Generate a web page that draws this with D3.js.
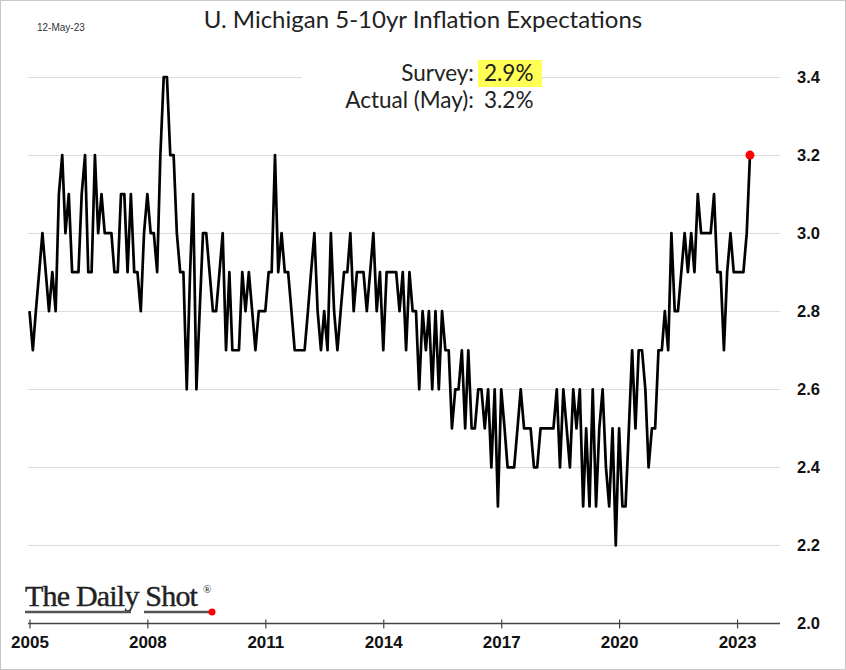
<!DOCTYPE html>
<html><head><meta charset="utf-8">
<script src="https://cdn.jsdelivr.net/npm/d3@7"></script>
<style>body{margin:0;background:#fff} svg{display:block}</style>
</head><body>
<script>
// ---- data ----
const startYear = 2005;           // first observation: Jan 2005, monthly
const values = [
  2.8,2.7,2.8,2.9,3.0,2.9,2.8,2.9,2.8,3.1,3.2,3.0, // 2005
  3.1,2.9,2.9,2.9,3.1,3.2,2.9,2.9,3.2,3.0,3.1,3.0, // 2006
  3.0,3.0,2.9,2.9,3.1,3.1,2.9,3.1,2.9,2.9,2.8,3.0, // 2007
  3.1,3.0,3.0,2.9,3.2,3.4,3.4,3.2,3.2,3.0,2.9,2.9, // 2008
  2.6,2.9,3.1,2.6,2.8,3.0,3.0,2.9,2.8,2.8,2.9,3.0, // 2009
  2.7,2.9,2.7,2.7,2.7,2.9,2.8,2.9,2.8,2.7,2.8,2.8, // 2010
  2.8,2.9,2.9,3.2,2.9,3.0,2.9,2.9,2.8,2.7,2.7,2.7, // 2011
  2.7,2.8,2.9,3.0,2.8,2.7,2.8,2.7,3.0,2.8,2.7,2.8, // 2012
  2.9,2.9,3.0,2.8,2.9,2.9,2.9,2.8,2.9,3.0,2.8,2.9, // 2013
  2.7,2.9,2.9,2.9,2.9,2.8,2.9,2.7,2.9,2.8,2.8,2.6, // 2014
  2.8,2.7,2.8,2.6,2.8,2.6,2.8,2.7,2.7,2.5,2.6,2.6, // 2015
  2.7,2.5,2.7,2.5,2.5,2.6,2.6,2.5,2.6,2.4,2.6,2.3, // 2016
  2.6,2.5,2.4,2.4,2.4,2.5,2.6,2.5,2.5,2.5,2.4,2.4, // 2017
  2.5,2.5,2.5,2.5,2.5,2.6,2.4,2.6,2.5,2.4,2.6,2.5, // 2018
  2.6,2.3,2.5,2.3,2.6,2.3,2.5,2.6,2.4,2.3,2.5,2.2, // 2019
  2.5,2.3,2.3,2.5,2.7,2.5,2.7,2.7,2.6,2.4,2.5,2.5, // 2020
  2.7,2.7,2.8,2.7,3.0,2.8,2.8,2.9,3.0,2.9,3.0,2.9, // 2021
  3.1,3.0,3.0,3.0,3.0,3.1,2.9,2.9,2.7,2.9,3.0,2.9, // 2022
  2.9,2.9,2.9,3.0,3.2                               // 2023
];
const yTicks = [2.0, 2.2, 2.4, 2.6, 2.8, 3.0, 3.2, 3.4];
const xTickYears = [2005, 2008, 2011, 2014, 2017, 2020, 2023];
const titleText = "U. Michigan 5-10yr Inflation Expectations";
const dateStamp = "12-May-23";
const surveyLabel = "Survey:", surveyValue = "2.9%";
const actualLabel = "Actual (May):", actualValue = "3.2%";

// ---- chart ----
const W = 846, H = 670;
const svg = d3.select("body").append("svg").attr("width", W).attr("height", H);
svg.append("rect").attr("x", 0.5).attr("y", 0.5).attr("width", W - 1).attr("height", H - 1)
  .attr("fill", "#fff").attr("stroke", "#c8c8c8");

const data = values.map((v, i) => ({date: new Date(startYear, i, 1), value: v}));
const x = d3.scaleTime().domain([new Date(2005, 0, 1), new Date(2024, 1, 4)]).range([29.5, 780]);
const y = d3.scaleLinear().domain([2.0, 3.4]).range([623.5, 77]);

// gridlines
svg.append("g").selectAll("line").data(yTicks.filter(t => t > 2.0)).join("line")
  .attr("x1", 28).attr("x2", 780)
  .attr("y1", d => Math.round(y(d)) + 0.5).attr("y2", d => Math.round(y(d)) + 0.5)
  .attr("stroke", "#dcdcdc").attr("stroke-width", 1.2);

// y labels on the right
const yAxis = svg.append("g").attr("transform", "translate(797,0)")
  .call(d3.axisRight(y).tickValues(yTicks).tickFormat(d3.format(".1f")).tickSize(0).tickPadding(0));
yAxis.select(".domain").remove();
yAxis.selectAll("text").attr("font-family", "Liberation Sans, Arial, sans-serif")
  .attr("font-size", 16.5).attr("font-weight", "bold").attr("fill", "#111");

// x axis
const xAxis = svg.append("g").attr("transform", `translate(0,${y(2.0)})`)
  .call(d3.axisBottom(x).tickValues(xTickYears.map(yr => new Date(yr, 0, 1)))
    .tickFormat(d3.timeFormat("%Y")).tickSizeInner(5).tickSizeOuter(0).tickPadding(7));
xAxis.select(".domain").attr("d", "M28,0H780").attr("stroke", "#444").attr("stroke-width", 1.3);
xAxis.selectAll(".tick line").attr("y1", -4).attr("y2", 5).attr("stroke", "#444").attr("stroke-width", 1.2);
xAxis.selectAll("text").attr("font-family", "Liberation Sans, Arial, sans-serif")
  .attr("font-size", 17).attr("font-weight", "bold").attr("fill", "#111");

// annotation background + text
svg.append("rect").attr("x", 302).attr("y", 58).attr("width", 240).attr("height", 56).attr("fill", "#fff");
svg.append("rect").attr("x", 478).attr("y", 60).attr("width", 64).attr("height", 27).attr("fill", "#ffff55");
const annFont = "Lato, Open Sans, sans-serif";
const annSize = 22.5;
svg.append("text").attr("x", 474).attr("y", 81).attr("text-anchor", "end")
  .attr("font-family", annFont).attr("font-size", annSize).attr("fill", "#222").text(surveyLabel);
svg.append("text").attr("x", 484).attr("y", 81)
  .attr("font-family", annFont).attr("font-size", annSize).attr("fill", "#222").text(surveyValue);
svg.append("text").attr("x", 474).attr("y", 108).attr("text-anchor", "end")
  .attr("font-family", annFont).attr("font-size", annSize).attr("fill", "#222").text(actualLabel);
svg.append("text").attr("x", 484).attr("y", 108)
  .attr("font-family", annFont).attr("font-size", annSize).attr("fill", "#222").text(actualValue);

// line
svg.append("path").datum(data)
  .attr("fill", "none").attr("stroke", "#000").attr("stroke-width", 2.7).attr("stroke-linejoin", "round")
  .attr("d", d3.line().x(d => x(d.date)).y(d => y(d.value)));
const last = data[data.length - 1];
svg.append("circle").attr("cx", x(last.date)).attr("cy", y(last.value)).attr("r", 4.5).attr("fill", "#ff0000");

// title & date
svg.append("text").attr("x", 423).attr("y", 28).attr("text-anchor", "middle")
  .attr("font-family", "Lato, Open Sans, sans-serif").attr("font-size", 24).attr("fill", "#222").text(titleText);
svg.append("text").attr("x", 37).attr("y", 31)
  .attr("font-family", "Liberation Sans, Arial, sans-serif").attr("font-size", 10).attr("fill", "#333").text(dateStamp);

// logo
const logo = svg.append("g");
logo.append("text").attr("x", 25).attr("y", 606)
  .attr("font-family", "Liberation Serif, Times New Roman, serif").attr("font-size", 30)
  .attr("fill", "#222").attr("stroke", "#222").attr("stroke-width", 0.4)
  .attr("letter-spacing", -0.8).text("The Daily Shot");
logo.append("text").attr("x", 203).attr("y", 593)
  .attr("font-family", "Liberation Serif, serif").attr("font-size", 11).attr("fill", "#222").text("®");
logo.append("line").attr("x1", 25).attr("x2", 131).attr("y1", 612).attr("y2", 612).attr("stroke", "#555").attr("stroke-width", 2.5);
logo.append("line").attr("x1", 144).attr("x2", 210).attr("y1", 612).attr("y2", 612).attr("stroke", "#555").attr("stroke-width", 2.5);
logo.append("circle").attr("cx", 212).attr("cy", 612).attr("r", 3.5).attr("fill", "#ff0000");
</script>
</body></html>
